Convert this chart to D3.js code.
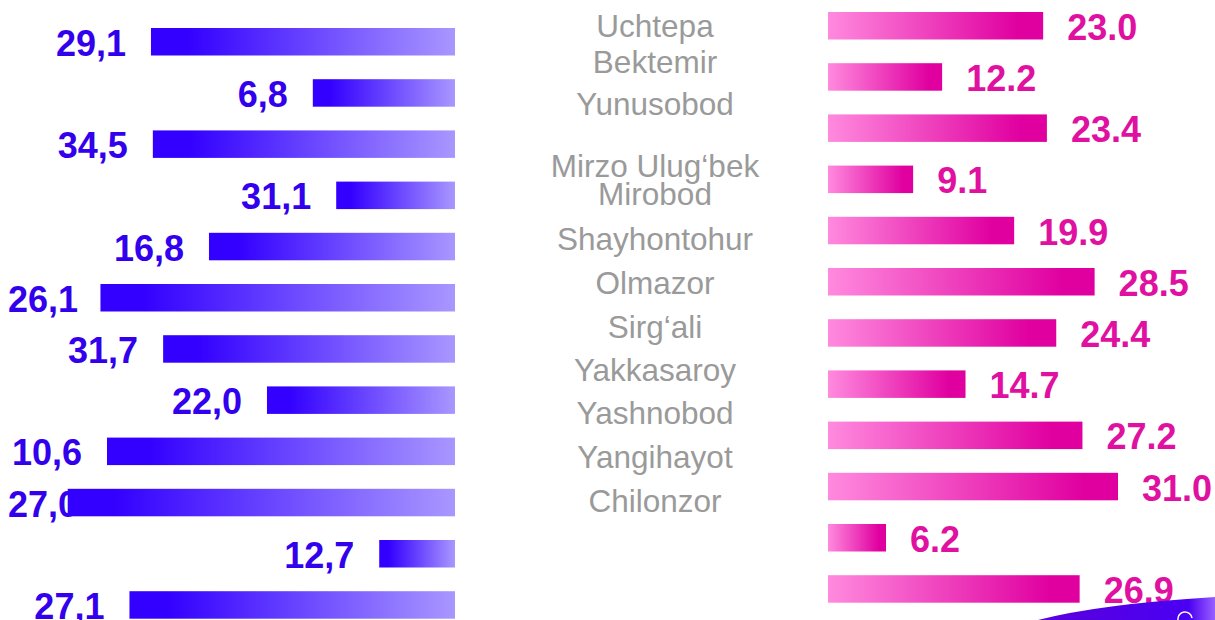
<!DOCTYPE html>
<meta charset="utf-8">
<script src="https://d3js.org/d3.v7.min.js"></script>
<style>
  body { margin: 0; background: #fff; }
  text { font-family: "Liberation Sans", Arial, sans-serif; }
</style>
<div id="chart"></div>
<script>
// districts, top to bottom
var districts = ["Uchtepa", "Bektemir", "Yunusobod", "Mirzo Ulug\u2018bek", "Mirobod", "Shayhontohur",
                 "Olmazor", "Sirg\u2018ali", "Yakkasaroy", "Yashnobod", "Yangihayot", "Chilonzor"];

// left (blue) series: bar lengths as drawn, and the printed labels
var leftBars   = [32.5, 15.2, 32.3, 12.7, 26.3, 37.9, 31.2, 20.1, 37.2, 41.4, 8.1, 34.8];
var leftLabels = ["29,1", "6,8", "34,5", "31,1", "16,8", "26,1", "31,7", "22,0", "10,6", "27,0", "12,7", "27,1"];

// right (pink) series
var rightValues = [23.0, 12.2, 23.4, 9.1, 19.9, 28.5, 24.4, 14.7, 27.2, 31.0, 6.2, 26.9];

// baselines of the district names (they do not sit on the bar rows)
var nameBaseline = [37, 73, 115, 177, 205, 250, 294, 338, 381, 424, 468, 512];

var W = 1215, H = 620;

var svg = d3.select("#chart").append("svg")
  .attr("width", W).attr("height", H);

var defs = svg.append("defs");
var gBlue = defs.append("linearGradient").attr("id", "gBlue");
gBlue.append("stop").attr("offset", "0").attr("stop-color", "#3300ff");
gBlue.append("stop").attr("offset", "0.12").attr("stop-color", "#3300ff");
gBlue.append("stop").attr("offset", "1").attr("stop-color", "#a997ff");

var gPink = defs.append("linearGradient").attr("id", "gPink");
gPink.append("stop").attr("offset", "0").attr("stop-color", "#ff8ade");
gPink.append("stop").attr("offset", "0.88").attr("stop-color", "#e000a0");
gPink.append("stop").attr("offset", "1").attr("stop-color", "#e000a0");

var gSwoosh = defs.append("linearGradient").attr("id", "gSwoosh");
gSwoosh.append("stop").attr("offset", "0").attr("stop-color", "#5a00dc");
gSwoosh.append("stop").attr("offset", "0.85").attr("stop-color", "#4a00f2");
gSwoosh.append("stop").attr("offset", "1").attr("stop-color", "#9a60ff");

// scales: same pixels per unit on both sides
var len = d3.scaleLinear().domain([0, 31]).range([0, 290]);
var leftX0 = 455, rightX0 = 828;

var rows = d3.range(districts.length);
var yLeft = d3.scaleBand().domain(rows).range([28, 618.7]).paddingInner(0.463).paddingOuter(0);
var yRight = d3.scaleBand().domain(rows).range([12, 602.7]).paddingInner(0.463).paddingOuter(0);

// left labels first, bars go over them
var lLab = svg.selectAll(".llab")
  .data(rows)
  .enter().append("text")
    .attr("class", "llab")
    .attr("text-anchor", "end")
    .attr("y", function(i) { return yLeft(i) + yLeft.bandwidth() / 2 + 14; })
    .style("font-size", "36px")
    .style("font-weight", "bold")
    .attr("fill", "#3300ee")
    .text(function(i) { return leftLabels[i]; });

lLab.attr("x", function(i) {
  var w = this.getComputedTextLength();
  return Math.max(leftX0 - len(leftBars[i]) - 25, 8 + w);
});

svg.selectAll(".lbar")
  .data(rows)
  .enter().append("rect")
    .attr("class", "lbar")
    .attr("x", function(i) { return leftX0 - len(leftBars[i]); })
    .attr("y", function(i) { return yLeft(i); })
    .attr("width", function(i) { return len(leftBars[i]); })
    .attr("height", yLeft.bandwidth())
    .attr("fill", "url(#gBlue)");

// district names
svg.selectAll(".name")
  .data(rows)
  .enter().append("text")
    .attr("class", "name")
    .attr("x", 655)
    .attr("y", function(i) { return nameBaseline[i]; })
    .attr("text-anchor", "middle")
    .style("font-size", "31.5px")
    .attr("fill", "#9a9a9a")
    .text(function(i) { return districts[i]; });

// right bars
svg.selectAll(".rbar")
  .data(rows)
  .enter().append("rect")
    .attr("class", "rbar")
    .attr("x", rightX0)
    .attr("y", function(i) { return yRight(i); })
    .attr("width", function(i) { return len(rightValues[i]); })
    .attr("height", yRight.bandwidth())
    .attr("fill", "url(#gPink)");

svg.selectAll(".rlab")
  .data(rows)
  .enter().append("text")
    .attr("class", "rlab")
    .attr("x", function(i) { return rightX0 + len(rightValues[i]) + 24; })
    .attr("y", function(i) { return yRight(i) + yRight.bandwidth() / 2 + 14; })
    .style("font-size", "36px")
    .style("font-weight", "bold")
    .attr("fill", "#e010a0")
    .text(function(i) { return rightValues[i].toFixed(1); });

// decorative swoosh in the corner
svg.append("path")
  .attr("d", "M1038,620 Q1100,604 1215,597 L1215,620 Z")
  .attr("fill", "url(#gSwoosh)");
svg.append("path")
  .attr("d", "M1178,620 A7,7 0 0 1 1192,618")
  .attr("fill", "none")
  .attr("stroke", "#fff")
  .attr("stroke-width", 1.5);
</script>
